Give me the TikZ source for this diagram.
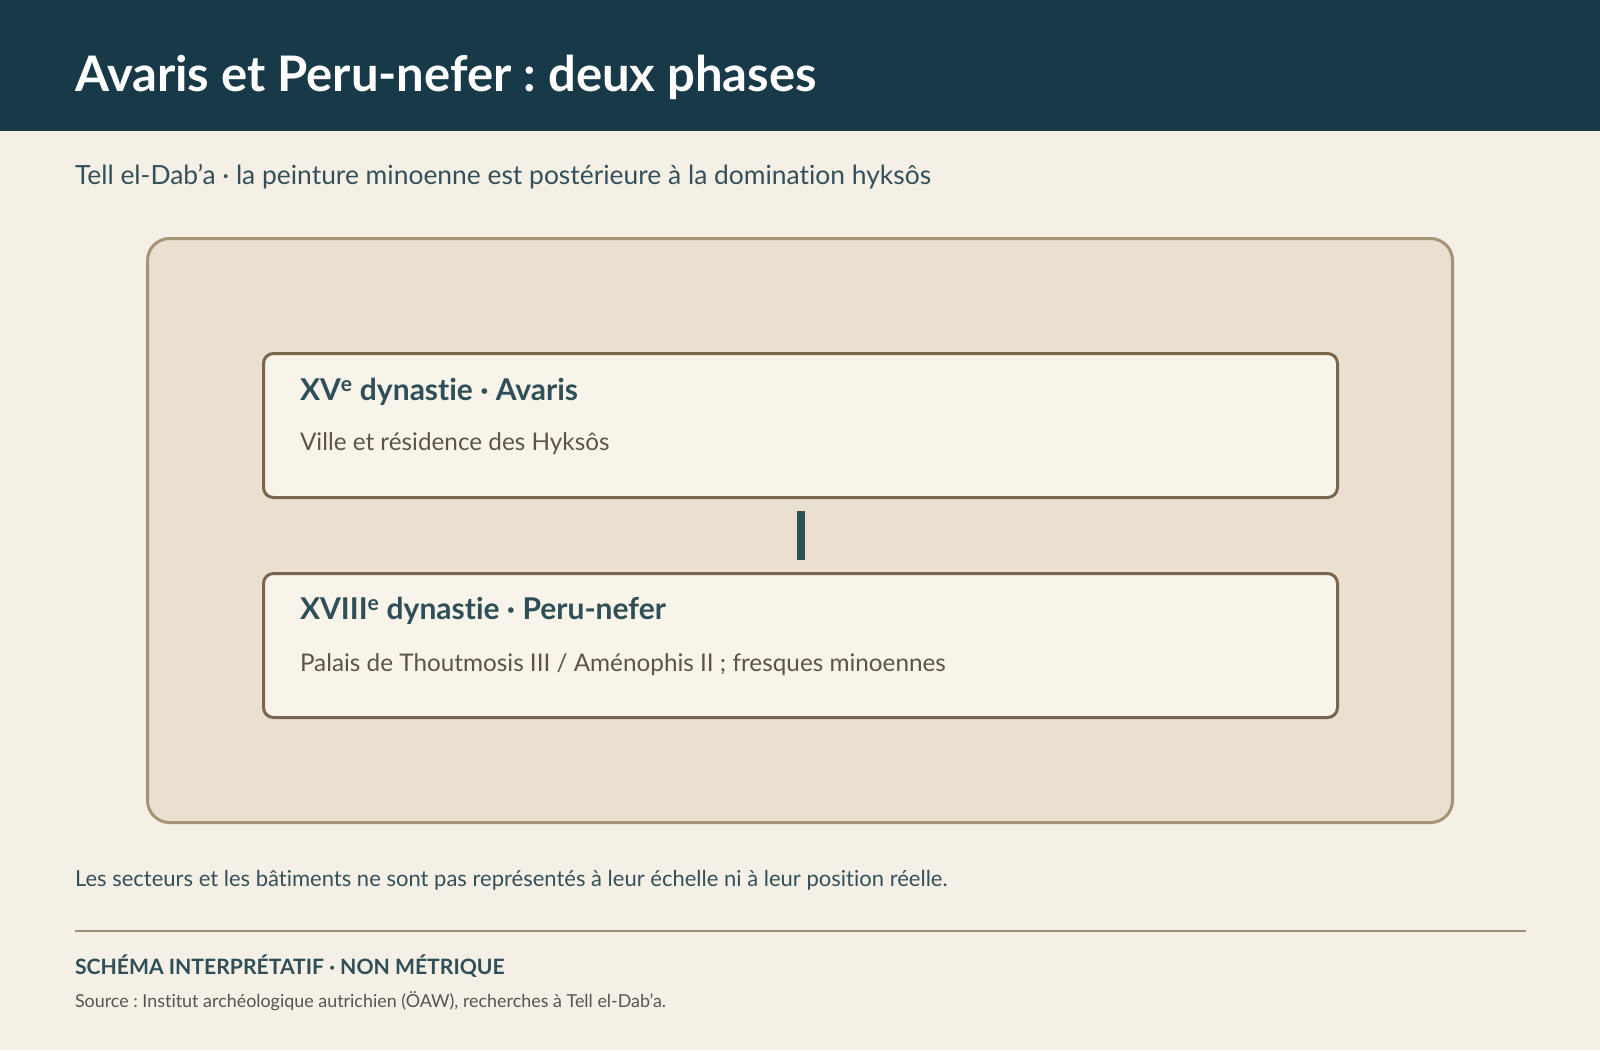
\documentclass[tikz,border=0pt]{standalone}
\usepackage{fontspec}
\setmainfont[Ligatures=NoCommon]{Lato}
\AtBeginDocument{\frenchspacing}
\usetikzlibrary{calc}
\definecolor{bgc}{HTML}{F5F0E6}
\definecolor{headc}{HTML}{183A48}
\definecolor{outerfill}{HTML}{E9E0CF}
\definecolor{outerline}{HTML}{A69477}
\definecolor{innerfill}{HTML}{F8F4EA}
\definecolor{innerline}{HTML}{7A664D}
\definecolor{tealc}{HTML}{2E4E58}
\definecolor{bodyc}{HTML}{5C5448}
\definecolor{subc}{HTML}{34505A}
\definecolor{srcc}{HTML}{55554F}
\definecolor{rulec}{HTML}{A08F72}
\tikzset{
  txt/.style={anchor=base west, inner sep=0pt, outer sep=0pt},
  framebox/.style={draw=outerline, fill=outerfill, line width=3pt, rounded corners=22pt, inner sep=0pt,
    minimum width=1305pt, minimum height=584pt},
  phasebox/.style={draw=innerline, fill=innerfill, line width=3pt, rounded corners=10pt, inner sep=0pt,
    minimum width=1074pt, minimum height=144pt},
  phasetitle/.style={txt, text=tealc, font=\bfseries\fontsize{30}{34}\selectfont},
  phasebody/.style={txt, text=bodyc, font=\fontsize{24.3}{28}\selectfont},
  conn/.style={draw=tealc, line width=8pt},
}
\begin{document}
\begin{tikzpicture}[x=1pt,y=-1pt]
\useasboundingbox (0,0) rectangle (1600,1050);
\fill[bgc] (0,0) rectangle (1600,1050);
\fill[headc] (0,0) rectangle (1600,131);
\node[txt, text=white, font=\bfseries\fontsize{49}{55}\selectfont] (title) at (75,91) {Avaris et Peru-nefer : deux phases};
\node[txt, text=subc, font=\fontsize{26.4}{31}\selectfont] (subtitle) at (75,184) {Tell el-Dab’a · la peinture minoenne est postérieure à la domination hyksôs};

\node[framebox] (frame) at (800,530.5) {};
\node[phasebox] (box1) at (800.5,425.5) {};
\node[phasebox] (box2) at (800.5,645.5) {};
\node[phasetitle] (t1) at ($(box1.north west)+(38,48.5)$) {XV\textsuperscript{e} dynastie · Avaris};
\node[phasebody] (b1) at ($(box1.north west)+(38,98.5)$) {Ville et résidence des Hyksôs};
\node[phasetitle] (t2) at ($(box2.north west)+(38,47.5)$) {XVIII\textsuperscript{e} dynastie · Peru-nefer};
\node[phasebody] (b2) at ($(box2.north west)+(38,99.5)$) {Palais de Thoutmosis III / Aménophis II ; fresques minoennes};
\draw[conn] ($(box1.south)+(0,12)$) -- ($(box2.north)+(0,-12)$);

\node[txt, text=subc, font=\fontsize{22}{26}\selectfont] (note) at (75,886) {Les secteurs et les bâtiments ne sont pas représentés à leur échelle ni à leur position réelle.};
\coordinate (ruleL) at (75,931);
\coordinate (ruleR) at (1526,931);
\draw[rulec, line width=2pt] (ruleL) -- (ruleR);
\node[txt, text=tealc, font=\bfseries\fontsize{21.15}{25}\selectfont] (schema) at (75,974) {SCHÉMA INTERPRÉTATIF · NON MÉTRIQUE};
\node[txt, text=srcc, font=\fontsize{17.9}{22}\selectfont] (source) at (75,1007) {Source : Institut archéologique autrichien (ÖAW), recherches à Tell el-Dab’a.};
\end{tikzpicture}
\end{document}
